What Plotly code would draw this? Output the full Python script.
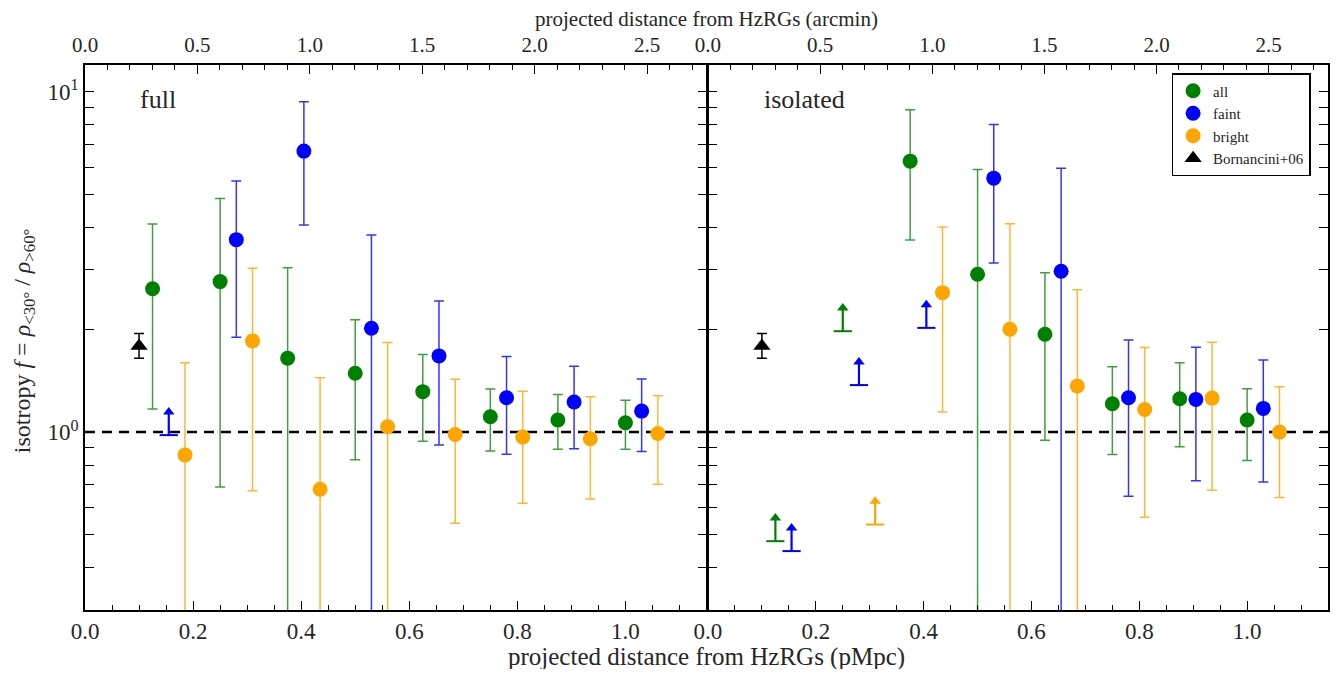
import numpy as np
import plotly.graph_objects as go

# ---------------- data ----------------
PMPC_PER_ARCMIN = 0.416
X_MAX = 1.15
Y_RANGE = [0.3, 12.0]
ARROW_FACTOR = 1.17  # lower-limit arrow length (multiplicative)

# full sample
full_all_x = [0.125, 0.25, 0.375, 0.5, 0.625, 0.75, 0.875, 1.0]
full_all_y = [2.64, 2.77, 1.65, 1.49, 1.315, 1.11, 1.085, 1.065]
full_all_hi = [4.09, 4.86, 3.04, 2.14, 1.69, 1.34, 1.29, 1.24]
full_all_lo = [1.17, 0.69, 0.0, 0.83, 0.94, 0.88, 0.89, 0.89]

full_faint_x = [0.28, 0.405, 0.53, 0.655, 0.78, 0.905, 1.03]
full_faint_y = [3.68, 6.70, 2.02, 1.675, 1.262, 1.226, 1.153]
full_faint_hi = [5.47, 9.35, 3.80, 2.43, 1.667, 1.562, 1.433]
full_faint_lo = [1.90, 4.06, 0.0, 0.917, 0.861, 0.893, 0.877]
full_faint_lim_x = [0.155]
full_faint_lim_y = [0.98]

full_bright_x = [0.185, 0.31, 0.435, 0.56, 0.685, 0.81, 0.935, 1.06]
full_bright_y = [0.857, 1.854, 0.679, 1.037, 0.984, 0.967, 0.956, 0.991]
full_bright_hi = [1.60, 3.03, 1.445, 1.833, 1.43, 1.318, 1.27, 1.28]
full_bright_lo = [0.0, 0.673, 0.0, 0.0, 0.54, 0.618, 0.636, 0.703]

# isolated sample
iso_all_x = [0.375, 0.5, 0.625, 0.75, 0.875, 1.0]
iso_all_y = [6.26, 2.91, 1.94, 1.212, 1.254, 1.085]
iso_all_hi = [8.87, 5.92, 2.94, 1.557, 1.60, 1.342]
iso_all_lo = [3.67, 0.0, 0.947, 0.859, 0.905, 0.825]
iso_all_lim_x = [0.125, 0.25]
iso_all_lim_y = [0.478, 1.98]

iso_faint_x = [0.53, 0.655, 0.78, 0.905, 1.03]
iso_faint_y = [5.58, 2.97, 1.262, 1.248, 1.174]
iso_faint_hi = [8.02, 5.97, 1.867, 1.777, 1.63]
iso_faint_lo = [3.14, 0.0, 0.648, 0.72, 0.714]
iso_faint_lim_x = [0.155, 0.28, 0.405]
iso_faint_lim_y = [0.447, 1.375, 2.025]

iso_bright_x = [0.435, 0.56, 0.685, 0.81, 0.935, 1.06]
iso_bright_y = [2.57, 2.007, 1.366, 1.166, 1.259, 1.0]
iso_bright_hi = [4.01, 4.10, 2.62, 1.772, 1.838, 1.36]
iso_bright_lo = [1.145, 0.0, 0.0, 0.562, 0.675, 0.642]
iso_bright_lim_x = [0.31]
iso_bright_lim_y = [0.535]

born_x = [0.1]
born_y = [1.79]
born_hi = [1.95]
born_lo = [1.65]

REFERENCE_F = 1.0

bottom_ticks = [0.0, 0.2, 0.4, 0.6, 0.8, 1.0]
top_ticks = [0.0, 0.5, 1.0, 1.5, 2.0, 2.5]

# ---------------- style ----------------
FONT = "Liberation Serif"
TXT = "#262626"
COLORS = {"all": "#008000", "faint": "#0000ff", "bright": "#ffa500"}
ERR_COLORS = {"all": "rgba(0,128,0,0.75)", "faint": "rgba(0,0,255,0.8)",
              "bright": "rgba(255,165,0,0.8)"}
LW = 1.5
PLOT_W_PX = 1245.0

fig = go.Figure()


def add_points(x, y, hi, lo, key, xa, ya, show):
    y = np.array(y, float)
    hi = np.array(hi, float)
    lo = np.array(lo, float)
    fig.add_trace(go.Scatter(
        x=x, y=y, mode="markers", name=key, legendgroup=key, showlegend=show,
        xaxis=xa, yaxis=ya,
        marker=dict(symbol="circle", size=15, color=COLORS[key], line=dict(width=0)),
        error_y=dict(type="data", symmetric=False, array=hi - y, arrayminus=y - lo,
                     color=ERR_COLORS[key], thickness=1.5, width=5),
    ))


def add_limits(x, y, key, xa, ya):
    y = np.array(y, float)
    tip = y * ARROW_FACTOR
    fig.add_trace(go.Scatter(
        x=x, y=y, mode="markers", showlegend=False, legendgroup=key,
        xaxis=xa, yaxis=ya,
        marker=dict(symbol="line-ew", size=13, color=COLORS[key],
                    line=dict(width=2, color=COLORS[key])),
        error_y=dict(type="data", symmetric=False, array=tip - y,
                     arrayminus=np.zeros_like(y), color=COLORS[key],
                     thickness=2.2, width=0),
    ))
    fig.add_trace(go.Scatter(
        x=x, y=tip, mode="markers", showlegend=False, legendgroup=key,
        xaxis=xa, yaxis=ya,
        marker=dict(symbol="triangle-up", size=10, color=COLORS[key], line=dict(width=0)),
    ))


def add_ref(xa, ya):
    fig.add_trace(go.Scatter(
        x=[0, X_MAX], y=[REFERENCE_F, REFERENCE_F], mode="lines", showlegend=False,
        xaxis=xa, yaxis=ya, hoverinfo="skip",
        line=dict(color="black", width=2.5, dash="10px,7px"),
    ))


def add_born(xa, ya, show):
    y = np.array(born_y, float)
    fig.add_trace(go.Scatter(
        x=born_x, y=y, mode="markers", name="Bornancini+06", showlegend=show,
        legendgroup="born", xaxis=xa, yaxis=ya,
        marker=dict(symbol="triangle-up", size=15, color="black", line=dict(width=0)),
        error_y=dict(type="data", symmetric=False, array=np.array(born_hi) - y,
                     arrayminus=y - np.array(born_lo), color="black",
                     thickness=1.5, width=5),
    ))


# left panel (full)
add_ref("x", "y")
add_points(full_all_x, full_all_y, full_all_hi, full_all_lo, "all", "x", "y", True)
add_points(full_faint_x, full_faint_y, full_faint_hi, full_faint_lo, "faint", "x", "y", True)
add_limits(full_faint_lim_x, full_faint_lim_y, "faint", "x", "y")
add_points(full_bright_x, full_bright_y, full_bright_hi, full_bright_lo, "bright", "x", "y", True)
add_born("x", "y", True)

# right panel (isolated)
add_ref("x2", "y2")
add_points(iso_all_x, iso_all_y, iso_all_hi, iso_all_lo, "all", "x2", "y2", False)
add_limits(iso_all_lim_x, iso_all_lim_y, "all", "x2", "y2")
add_points(iso_faint_x, iso_faint_y, iso_faint_hi, iso_faint_lo, "faint", "x2", "y2", False)
add_limits(iso_faint_lim_x, iso_faint_lim_y, "faint", "x2", "y2")
add_points(iso_bright_x, iso_bright_y, iso_bright_hi, iso_bright_lo, "bright", "x2", "y2", False)
add_limits(iso_bright_lim_x, iso_bright_lim_y, "bright", "x2", "y2")
add_born("x2", "y2", False)

# invisible traces to activate top (arcmin) axes
for xa, ya in (("x3", "y"), ("x4", "y2")):
    fig.add_trace(go.Scatter(x=[0], y=[REFERENCE_F], xaxis=xa, yaxis=ya, mode="markers",
                             marker=dict(opacity=0), showlegend=False, hoverinfo="skip"))

tickfont = dict(family=FONT, size=23, color=TXT)
common_x = dict(
    showgrid=False, zeroline=False, showline=True, linecolor="black", linewidth=LW,
    ticks="inside", ticklen=9, tickwidth=1.3, tickcolor="black", tickfont=tickfont,
)
bottom_x = dict(common_x, range=[0, X_MAX], tickvals=bottom_ticks,
                ticktext=[f"{t:.1f}" for t in bottom_ticks], mirror=True,
                ticklabelstandoff=0,
                minor=dict(ticks="inside", ticklen=5, dtick=0.05, tick0=0,
                           tickcolor="black", tickwidth=1.1))
top_x = dict(common_x, range=[0, X_MAX / PMPC_PER_ARCMIN], tickvals=top_ticks,
             ticktext=[f"{t:.1f}" for t in top_ticks], side="top",
             ticklabelstandoff=3, tickfont=dict(family=FONT, size=21, color=TXT),
             minor=dict(ticks="inside", ticklen=5, dtick=0.1, tick0=0,
                        tickcolor="black", tickwidth=1.1))

minor_y = [v * d for d in (0.1, 1.0) for v in range(2, 10) if Y_RANGE[0] <= v * d <= Y_RANGE[1]]
common_y = dict(
    type="log", range=[np.log10(Y_RANGE[0]), np.log10(Y_RANGE[1])],
    showgrid=False, zeroline=False, showline=True, linecolor="black", linewidth=LW,
    ticks="inside", ticklen=9, tickwidth=1.3, tickcolor="black", mirror="allticks",
    tickvals=[1, 10], ticktext=["10<sup>0</sup>", "10<sup>1</sup>"], tickfont=tickfont,
    minor=dict(ticks="inside", ticklen=5, tickvals=minor_y, tickcolor="black", tickwidth=1.1),
)

# page body has an 8px margin; figure sized so it fits the 1341x677 window
split = 0.5 + LW / PLOT_W_PX
fig.update_layout(
    width=1325, height=661,
    margin=dict(l=77, r=3, t=57, b=59),
    paper_bgcolor="white", plot_bgcolor="white",
    font=dict(family=FONT, color=TXT),
    xaxis=dict(bottom_x, domain=[0, 0.5], anchor="y"),
    xaxis2=dict(bottom_x, domain=[split, 1.0], anchor="y2"),
    xaxis3=dict(top_x, overlaying="x", anchor="y"),
    xaxis4=dict(top_x, overlaying="x2", anchor="y2"),
    yaxis=dict(common_y, domain=[0, 1], anchor="x"),
    yaxis2=dict(common_y, domain=[0, 1], anchor="x2", matches="y", showticklabels=False),
    legend=dict(x=0.986, xanchor="right", y=0.9853, yanchor="top",
                bgcolor="white", bordercolor="black", borderwidth=1.5,
                font=dict(family=FONT, size=15, color=TXT), tracegroupgap=0),
    showlegend=True,
    annotations=[
        dict(text="projected distance from HzRGs (pMpc)", xref="paper", yref="paper",
             x=0.5, y=-0.0862, xanchor="center", yanchor="middle", showarrow=False,
             font=dict(family=FONT, size=25, color=TXT)),
        dict(text="projected distance from HzRGs (arcmin)", xref="paper", yref="paper",
             x=0.5, y=1.0844, xanchor="center", yanchor="middle", showarrow=False,
             font=dict(family=FONT, size=21, color=TXT)),
        dict(text="isotropy <i>f</i> = <i>ρ</i><sub>&lt;30°</sub> / <i>ρ</i><sub>&gt;60°</sub>",
             xref="paper", yref="paper", x=-0.0495, y=0.494, xanchor="center", yanchor="middle",
             textangle=-90, showarrow=False, font=dict(family=FONT, size=24, color=TXT)),
        dict(text="full", xref="x domain", yref="y domain", x=0.085, y=0.936,
             xanchor="left", yanchor="middle", showarrow=False,
             font=dict(family=FONT, size=26, color=TXT)),
        dict(text="isolated", xref="x2 domain", yref="y2 domain", x=0.0867, y=0.936,
             xanchor="left", yanchor="middle", showarrow=False,
             font=dict(family=FONT, size=26, color=TXT)),
    ],
)

fig.write_html("out.html")
